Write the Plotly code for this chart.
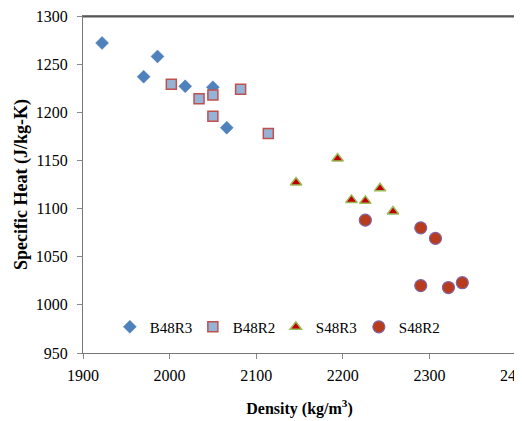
import plotly.graph_objects as go

b48r3_x = [1922, 1986, 1970, 2018, 2050, 2066]
b48r3_y = [1272, 1258, 1237, 1227, 1226, 1184]
b48r2_x = [2002, 2034, 2050, 2050, 2082, 2114]
b48r2_y = [1229, 1214, 1218, 1196, 1224, 1178]
s48r3_x = [2146, 2194, 2210, 2226, 2243, 2258]
s48r3_y = [1127, 1152, 1109, 1108, 1121, 1097]
s48r2_x = [2226, 2290, 2307, 2290, 2322, 2338]
s48r2_y = [1088, 1080, 1069, 1020, 1018, 1023]

font = "Liberation Serif, Times New Roman, serif"
fig = go.Figure()
fig.add_trace(go.Scatter(x=b48r3_x, y=b48r3_y, mode="markers", name="B48R3",
    marker=dict(symbol="diamond", size=10, color="#4F81BD", line=dict(width=0.5, color="#4F81BD"))))
fig.add_trace(go.Scatter(x=b48r2_x, y=b48r2_y, mode="markers", name="B48R2",
    marker=dict(symbol="square", size=10, color="#95B3D7", line=dict(width=1.5, color="#C0504D"))))
fig.add_trace(go.Scatter(x=s48r3_x, y=s48r3_y, mode="markers", name="S48R3",
    marker=dict(symbol="triangle-up", size=10, color="#C00000", line=dict(width=1.5, color="#9BBB59"))))
fig.add_trace(go.Scatter(x=s48r2_x, y=s48r2_y, mode="markers", name="S48R2",
    marker=dict(symbol="circle", size=12, color="#B83B1E", line=dict(width=1.2, color="#8064A2"))))

# page body has an 8px default margin, so the figure is sized to fit the window
fig.update_layout(
    width=514, height=413,
    margin=dict(l=75, r=6, t=8, b=68, autoexpand=False),
    paper_bgcolor="white", plot_bgcolor="white",
    font=dict(family=font, size=14, color="black"),
    showlegend=True,
    legend=dict(orientation="h", x=0.062, y=0.077, xanchor="left", yanchor="middle",
                bgcolor="rgba(0,0,0,0)", font=dict(family=font, size=15),
                entrywidth=38, entrywidthmode="pixels", itemwidth=30,
                tracegroupgap=0),
    xaxis=dict(range=[1900, 2400], dtick=100, showgrid=False, zeroline=False, automargin=True,
               ticks="outside", ticklen=5, tickcolor="#888888", tickwidth=1,
               showline=True, linecolor="#777777", linewidth=1, mirror=True,
               ticklabeloverflow="allow",
               tickfont=dict(family=font, size=16), ticklabelstandoff=3,
               title=dict(text="<b>Density (kg/m<sup>3</sup>)</b>", font=dict(family=font, size=16), standoff=19)),
    yaxis=dict(range=[950, 1300], dtick=50, showgrid=False, zeroline=False, automargin=True,
               ticks="outside", ticklen=5, tickcolor="#888888", tickwidth=1,
               showline=True, linecolor="#777777", linewidth=1, mirror=True,
               ticklabeloverflow="allow",
               tickfont=dict(family=font, size=16), ticklabelstandoff=6,
               title=dict(text="<b>Specific Heat (J/kg-K)</b>", font=dict(family=font, size=18), standoff=3)),
    shapes=[
        dict(type="line", xref="paper", yref="paper", x0=0, x1=1, y0=0.998, y1=0.998,
             line=dict(color="#555555", width=1.5), layer="above"),
        dict(type="line", xref="paper", yref="paper", x0=0.998, x1=0.998, y0=0, y1=1,
             line=dict(color="#666666", width=1.5), layer="above"),
    ],
)
fig.write_html("out.html")
